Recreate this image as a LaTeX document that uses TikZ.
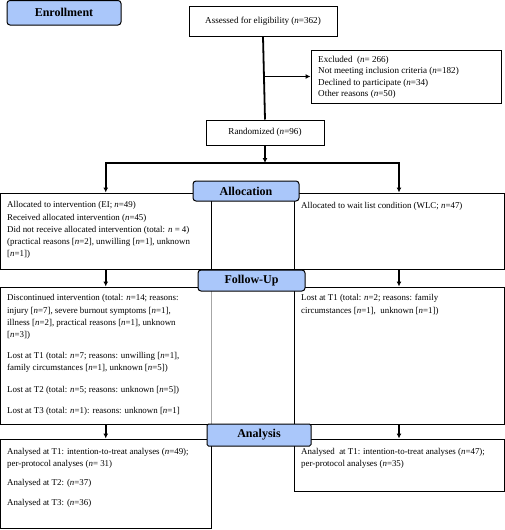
\documentclass[tikz,border=0pt]{standalone}
\usepackage{fontspec}
\setmainfont{Liberation Serif}
\usetikzlibrary{arrows.meta}

\definecolor{stageblue}{RGB}{170,199,250}
\newcommand{\nn}{\textit{n}}

\tikzset{
  box/.style={draw, line width=1pt, inner sep=0pt, font=\fontsize{9.1}{11}\selectfont},
  stage/.style={draw, line width=1pt, rounded corners=3pt, fill=stageblue, inner sep=0pt,
    font=\bfseries\fontsize{12}{14}\selectfont},
  txt/.style={anchor=north west, align=left, inner sep=0pt, font=\fontsize{8.9}{12.2}\selectfont},
  link/.style={line width=1.8pt},
  arr/.style={-{Latex[length=5pt,width=5pt]}, line width=1.8pt}
}

\begin{document}
\begin{tikzpicture}[x=1pt,y=-1pt]
    \useasboundingbox (0,0) rectangle (505,530);

    % enrollment
    \node[box, minimum width=148pt, minimum height=30pt] (assess) at (263,21) {Assessed for eligibility (\nn=362)};
    \node[box, minimum width=190pt, minimum height=53pt] (excl) at (406,76.5) {};
    \node[txt, font=\fontsize{9.1}{11.3}\selectfont] (excltxt) at (318,56) {Excluded\ \ (\nn= 266)\\
      Not meeting inclusion criteria (\nn=182)\\
      Declined to participate (\nn=34)\\
      Other reasons (\nn=50)};
    \node[box, minimum width=118pt, minimum height=25pt] (rand) at (265,132.5) {Randomized (\nn=96)};

    \draw[link] (assess.south) -- (rand.north);
    \draw[arr] (assess.south |- excl.west) -- (excl.west);

    % allocation
    \node[box, minimum width=210.5pt, minimum height=76pt] (allocL) at (105.75,231) {};
    \node[box, minimum width=83pt, minimum height=76pt] (allocM) at (252.5,231) {};
    \node[box, minimum width=210pt, minimum height=76pt] (allocR) at (399,231) {};
    \node[txt] (allocLtxt) at (7,201.5) {Allocated to intervention (EI; \nn=49)\\
      Received allocated intervention (\nn=45)\\
      Did not receive allocated intervention (total: \nn{} = 4)\\
      (practical reasons [\nn=2], unwilling [\nn=1], unknown\\
      {[}\nn=1])};
    \node[txt] (allocRtxt) at (301,202.5) {Allocated to wait list condition (WLC; \nn=47)};

    \coordinate (split) at (265,163);
    \draw[arr] (rand.south) -- (split);
    \draw[arr] (split) -| (allocL.north);
    \draw[arr] (split) -| (allocR.north);

    % follow-up
    \node[box, minimum width=210.5pt, minimum height=137pt] (fupL) at (105.75,355.5) {};
    \node[box, minimum width=83pt, minimum height=137pt] (fupM) at (252.5,355.5) {};
    \node[box, minimum width=210pt, minimum height=137pt] (fupR) at (399,355.5) {};
    \draw[gray!70, line width=1pt] (fupL.north east) -- (fupL.south east);
    \node[txt] (fupLtxt) at (7,294.5) {Discontinued intervention (total: \nn=14; reasons:\\
      injury [\nn=7], severe burnout symptoms [\nn=1],\\
      illness [\nn=2], practical reasons [\nn=1], unknown\\
      {[}\nn=3])\\[9pt]
      Lost at T1 (total: \nn=7; reasons: unwilling [\nn=1],\\
      family circumstances [\nn=1], unknown [\nn=5])\\[9pt]
      Lost at T2 (total: \nn=5; reasons: unknown [\nn=5])\\[9.5pt]
      Lost at T3 (total: \nn=1): reasons: unknown [\nn=1]};
    \node[txt] (fupRtxt) at (301,294.5) {Lost at T1 (total: \nn=2; reasons: family\\
      circumstances [\nn=1],\ \ unknown [\nn=1])};

    \draw[arr] (allocL.south) -- (fupL.north);
    \draw[arr] (allocR.south) -- (fupR.north);

    % analysis
    \node[box, minimum width=210.5pt, minimum height=89.5pt] (anaL) at (105.75,483.75) {};
    \node[box, minimum width=210pt, minimum height=52pt] (anaR) at (399,465) {};
    \node[txt, font=\fontsize{8.9}{11.3}\selectfont] (anaLtxt) at (7,448.5) {Analysed at T1: intention-to-treat analyses (\nn=49);\\
      per-protocol analyses (\nn= 31)\\[8.5pt]
      Analysed at T2: (\nn=37)\\[8.5pt]
      Analysed at T3: (\nn=36)};
    \node[txt, font=\fontsize{8.9}{11.5}\selectfont] (anaRtxt) at (301,448.5) {Analysed\ \ at T1: intention-to-treat analyses (\nn=47);\\
      per-protocol analyses (\nn=35)};

    \draw[arr] (fupL.south) -- (anaL.north);
    \draw[arr] (fupR.south) -- (anaR.north);

    % stage banners
    \node[stage, minimum width=114pt, minimum height=24.5pt] (enroll) at (64,12.75) {Enrollment};
    \node[stage, minimum width=106pt, minimum height=20pt] (allocation) at (246,191) {Allocation};
    \node[stage, minimum width=107pt, minimum height=21pt] (followup) at (251.5,280.5) {Follow-Up};
    \node[stage, rounded corners=1.5pt, minimum width=104pt, minimum height=22pt] (analysis) at (259,435) {Analysis};

\end{tikzpicture}
\end{document}
